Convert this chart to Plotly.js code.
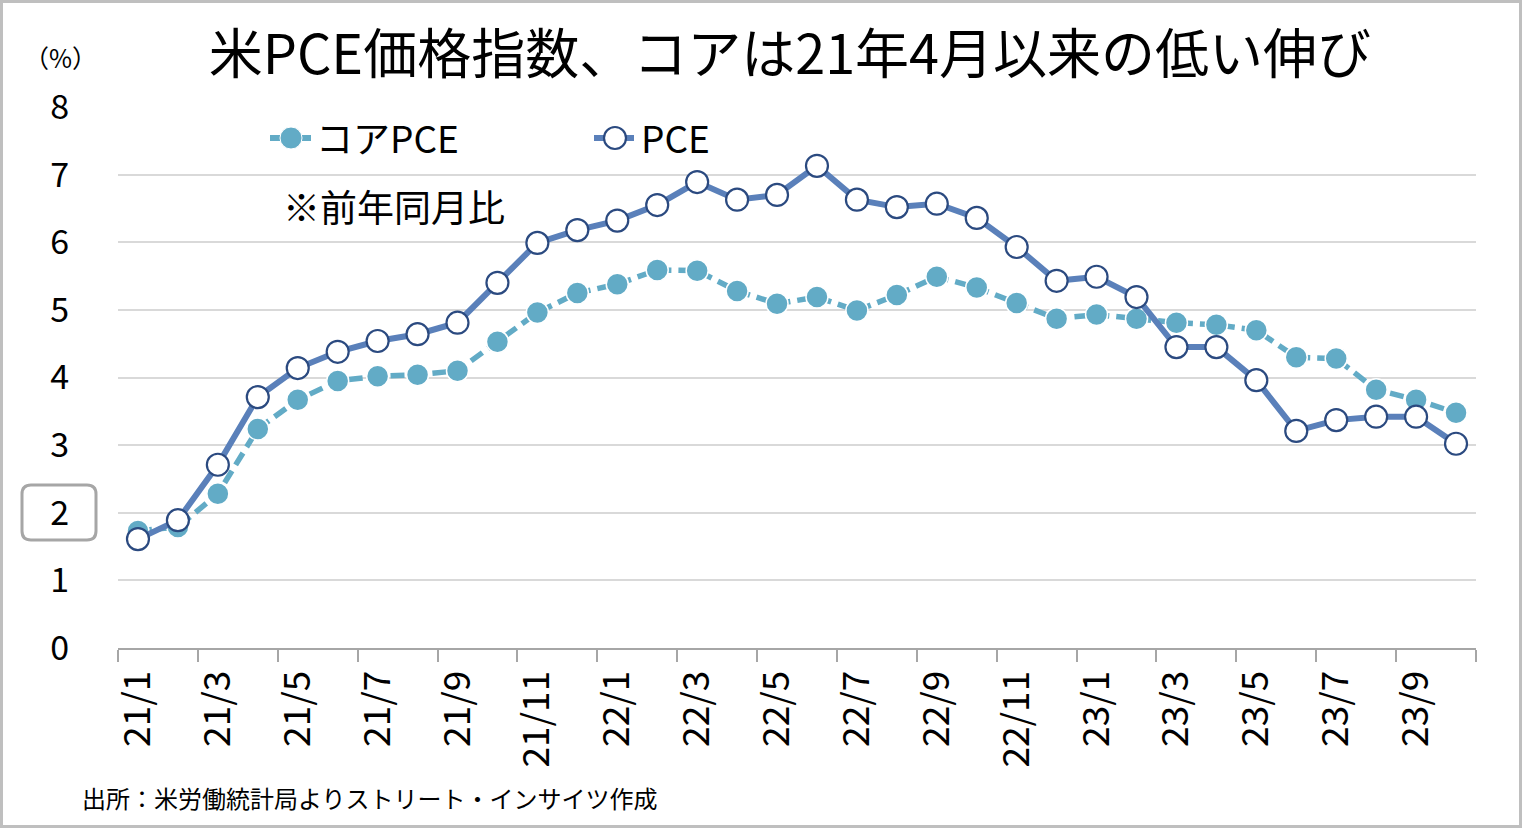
<!DOCTYPE html>
<html>
<head>
<meta charset="utf-8">
<script src="https://cdn.plot.ly/plotly-3.0.1.min.js"></script>
<style>
html,body{margin:0;padding:0;background:#fff;}
#chart{width:1522px;height:828px;}
</style>
</head>
<body>
<div id="chart"></div>
<script>
const months = ["21/1","21/2","21/3","21/4","21/5","21/6","21/7","21/8","21/9","21/10","21/11","21/12",
  "22/1","22/2","22/3","22/4","22/5","22/6","22/7","22/8","22/9","22/10","22/11","22/12",
  "23/1","23/2","23/3","23/4","23/5","23/6","23/7","23/8","23/9","23/10"];
const corePCE = [1.73,1.79,2.28,3.24,3.67,3.95,4.02,4.04,4.10,4.53,4.96,5.25,
  5.38,5.59,5.58,5.28,5.09,5.19,4.99,5.22,5.49,5.33,5.10,4.87,
  4.93,4.87,4.81,4.78,4.70,4.30,4.28,3.82,3.67,3.48];
const pce = [1.61,1.89,2.71,3.71,4.14,4.38,4.54,4.64,4.81,5.40,5.99,6.18,
  6.32,6.55,6.89,6.63,6.70,7.13,6.63,6.52,6.57,6.36,5.93,5.43,
  5.49,5.19,4.45,4.45,3.96,3.21,3.37,3.42,3.42,3.02];
const seriesNames = ["コアPCE","PCE"];
const titleText = "米PCE価格指数、コアは21年4月以来の低い伸び";
const noteText = "※前年同月比";
const unitText = "（%）";
const sourceText = "出所：米労働統計局よりストリート・インサイツ作成";

const FONT = "'Noto Sans CJK JP', 'Noto Sans', sans-serif";
const W = 1522, H = 828;
const M = {l:118, r:46, t:107, b:180};
const PW = W - M.l - M.r, PH = H - M.t - M.b;
const px = x => (x - M.l) / PW;
const py = y => (H - M.b - y) / PH;

const CORE_COLOR = '#62ABC6', PCE_LINE = '#5A80BA', PCE_EDGE = '#2B4A80';

function roundRect(x0,y0,x1,y1,r){
  const X0=px(x0),X1=px(x1),Y0=py(y0),Y1=py(y1);
  const rx=r/PW, ry=r/PH;
  return `M ${X0+rx},${Y0} L ${X1-rx},${Y0} Q ${X1},${Y0} ${X1},${Y0-ry} L ${X1},${Y1+ry} Q ${X1},${Y1} ${X1-rx},${Y1} L ${X0+rx},${Y1} Q ${X0},${Y1} ${X0},${Y1+ry} L ${X0},${Y0-ry} Q ${X0},${Y0} ${X0+rx},${Y0} Z`;
}
function circle(cx,cy,r,fill,edge,w){
  return {type:'circle', xref:'paper', yref:'paper', x0:px(cx-r), x1:px(cx+r), y0:py(cy+r), y1:py(cy-r),
          fillcolor: fill, line:{color: edge, width: w}};
}
function seg(x0,x1,y,color,w,dash){
  return {type:'line', xref:'paper', yref:'paper', x0:px(x0), x1:px(x1), y0:py(y), y1:py(y),
          line:{color: color, width: w, dash: dash || 'solid'}};
}

const traces = [
  {x: months, y: corePCE, name: seriesNames[0], type: 'scatter', mode: 'lines+markers',
   line: {color: CORE_COLOR, width: 5.5, dash: '14px,7px'},
   marker: {size: 22, color: CORE_COLOR, line: {color: '#ffffff', width: 1.5}}},
  {x: months, y: pce, name: seriesNames[1], type: 'scatter', mode: 'lines+markers',
   line: {color: PCE_LINE, width: 6},
   marker: {size: 22, color: '#ffffff', line: {color: PCE_EDGE, width: 2.2}}}
];

const LEG_Y = 137;
const layout = {
  width: W, height: H,
  margin: {l: M.l, r: M.r, t: M.t, b: M.b, pad: 0},
  paper_bgcolor: '#ffffff', plot_bgcolor: '#ffffff',
  font: {family: FONT, color: '#000000'},
  title: {text: titleText, font: {family: FONT, size: 54, color: '#000'},
          x: 0.519, xref: 'container', xanchor: 'center', y: 1 - 55/H, yref: 'container', yanchor: 'middle'},
  showlegend: false,
  xaxis: {type: 'category', range: [-0.5, 33.5], dtick: 2, tickson: 'boundaries',
          tickangle: -90, tickfont: {family: FONT, size: 37, color: '#000'},
          ticks: 'outside', ticklen: 12, tickwidth: 2, tickcolor: '#A6A6A6',
          showline: true, linecolor: '#A6A6A6', linewidth: 2,
          showgrid: false, zeroline: false, fixedrange: true, ticklabelstandoff: 6},
  yaxis: {range: [0, 8], dtick: 1, tickfont: {family: FONT, size: 34, color: '#000'},
          showgrid: true, gridcolor: '#D9D9D9', gridwidth: 2, zeroline: false,
          showline: false, ticks: '', ticklabelstandoff: 48, fixedrange: true},
  annotations: [
    {text: unitText, xref: 'paper', yref: 'paper', x: px(60), y: py(57), xanchor: 'center', yanchor: 'middle',
     showarrow: false, font: {family: FONT, size: 25, color: '#000'}},
    {text: noteText, xref: 'paper', yref: 'paper', x: px(281), y: py(206), xanchor: 'left', yanchor: 'middle',
     showarrow: false, font: {family: FONT, size: 37, color: '#000'}},
    {text: sourceText, xref: 'paper', yref: 'paper', x: px(80), y: py(797), xanchor: 'left', yanchor: 'middle',
     showarrow: false, font: {family: FONT, size: 24, color: '#000'}},
    {text: seriesNames[0], xref: 'paper', yref: 'paper', x: px(314), y: py(LEG_Y), xanchor: 'left', yanchor: 'middle',
     showarrow: false, font: {family: FONT, size: 37, color: '#000'}},
    {text: seriesNames[1], xref: 'paper', yref: 'paper', x: px(639), y: py(LEG_Y), xanchor: 'left', yanchor: 'middle',
     showarrow: false, font: {family: FONT, size: 37, color: '#000'}}
  ],
  shapes: [
    {type: 'rect', xref: 'paper', yref: 'paper', x0: px(1.5), x1: px(1520.5), y0: py(1.5), y1: py(826.5),
     line: {color: '#BFBFBF', width: 3}, fillcolor: 'rgba(0,0,0,0)', layer: 'below'},
    {type: 'path', xref: 'paper', yref: 'paper', path: roundRect(22, 485, 96, 540, 9),
     line: {color: '#A6A6A6', width: 3}, fillcolor: 'rgba(0,0,0,0)'},
    seg(270, 280, 138, CORE_COLOR, 6), seg(301, 311, 138, CORE_COLOR, 6),
    circle(291, 138, 11, CORE_COLOR, '#ffffff', 1),
    seg(594, 634, 138, PCE_LINE, 6),
    circle(615, 138, 11, '#ffffff', PCE_EDGE, 2.2)
  ]
};

Plotly.newPlot('chart', traces, layout, {displayModeBar: false, staticPlot: true});
</script>
</body>
</html>
